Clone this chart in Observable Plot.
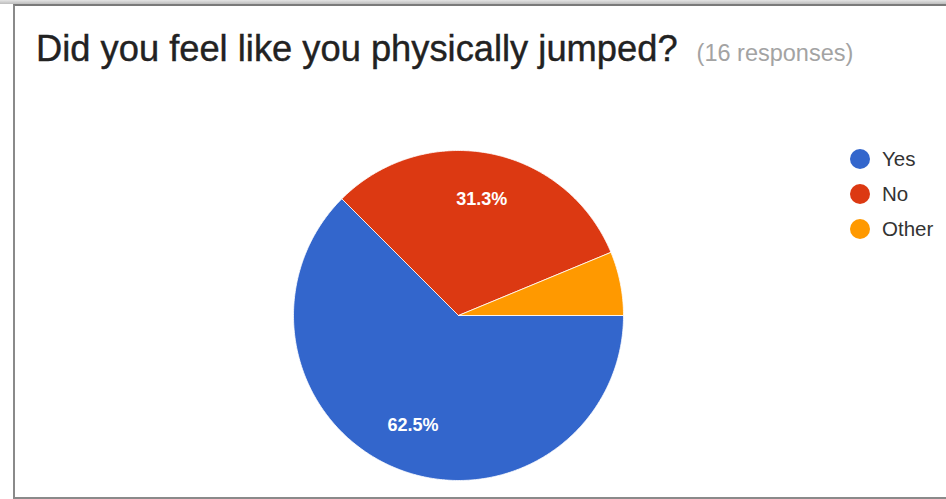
<!DOCTYPE html>
<html>
<head>
<meta charset="utf-8">
<script src="https://cdn.jsdelivr.net/npm/d3@7"></script>
<script src="https://cdn.jsdelivr.net/npm/@observablehq/plot@0.6"></script>
<style>
  html, body { margin: 0; padding: 0; background: #fff; }
  #page { position: relative; width: 946px; height: 499px; overflow: hidden; background: #fff; }
  #topstrip { position: absolute; left: 0; top: 0; width: 946px; height: 4px; background: linear-gradient(#e4e4e4, #bdbdbd); }
  #frame { position: absolute; left: 13px; top: 4px; width: 940px; height: 491px;
           border-top: 2px solid #7a7a7a; border-left: 2px solid #8a8a8a; border-bottom: 2px solid #8a8a8a; }
  #title { position: absolute; left: 36px; top: 28px; font-family: "Liberation Sans", Arial, sans-serif;
           font-size: 36.3px; color: #222; white-space: nowrap; -webkit-text-stroke: 0.4px #222; }
  #title .sub { font-size: 23.5px; color: #a3a3a3; margin-left: 19px; -webkit-text-stroke: 0; }
  #chart { position: absolute; left: 0; top: 0; }
  #legend { position: absolute; left: 850px; top: 141px; font-family: "Liberation Sans", Arial, sans-serif;
            font-size: 20.5px; color: #333; }
  #legend .item { display: flex; align-items: center; height: 35px; }
  #legend .sw { width: 20px; height: 20px; border-radius: 50%; margin-right: 12px; }
</style>
</head>
<body>
<div id="page">
  <div id="topstrip"></div>
  <div id="frame"></div>
  <div id="chart"></div>
  <div id="title"></div>
  <div id="legend"></div>
</div>
<script>
// ---- data ----
const answers = ["Yes", "No", "Other"];
const counts = [10, 5, 1];
const colors = ["#3366cc", "#dc3912", "#ff9900"];
const titleText = "Did you feel like you physically jumped?";
const responsesText = "(16 responses)";
const showLabel = [true, true, false];

// ---- build slices ----
const total = d3.sum(counts);
const startAngle = Math.PI / 2; // slices start at 3 o'clock, clockwise
const pie = d3.pie().sort(null).startAngle(startAngle).endAngle(startAngle + 2 * Math.PI);
const arcs = pie(counts);

const slicePts = [];
const labelRows = [];
arcs.forEach((a, i) => {
  const steps = Math.max(2, Math.ceil((a.endAngle - a.startAngle) / 0.01));
  slicePts.push({answer: answers[i], x: 0, y: 0});
  for (let k = 0; k <= steps; k++) {
    const t = a.startAngle + (a.endAngle - a.startAngle) * k / steps;
    slicePts.push({answer: answers[i], x: Math.sin(t), y: -Math.cos(t)});
  }
  slicePts.push({answer: answers[i], x: 0, y: 0});
  if (showLabel[i]) {
    const mid = (a.startAngle + a.endAngle) / 2;
    labelRows.push({
      x: 0.72 * Math.sin(mid), y: -0.72 * Math.cos(mid),
      text: (counts[i] / total * 100).toFixed(1) + "%"
    });
  }
});

const cx = 458, cy = 315, r = 165;
const chart = Plot.plot({
  width: 946, height: 499,
  margin: 0,
  x: {domain: [-1, 1], range: [cx - r, cx + r], axis: null},
  y: {domain: [-1, 1], range: [cy - r, cy + r], axis: null},
  color: {domain: answers, range: colors},
  style: {background: "transparent", fontFamily: "Liberation Sans, Arial, sans-serif"},
  marks: [
    Plot.line(slicePts, {x: "x", y: "y", z: "answer", fill: "answer", stroke: "white", strokeWidth: 1, strokeOpacity: 0.8, curve: "linear"}),
    Plot.text(labelRows, {x: "x", y: "y", text: "text", fill: "white", fontSize: 18, fontWeight: "bold", dy: 0})
  ]
});
document.getElementById("chart").appendChild(chart);

// title
const t = document.getElementById("title");
t.appendChild(document.createTextNode(titleText));
const s = document.createElement("span"); s.className = "sub"; s.textContent = responsesText; t.appendChild(s);

// legend
const lg = document.getElementById("legend");
answers.forEach((a, i) => {
  const it = document.createElement("div"); it.className = "item";
  const sw = document.createElement("div"); sw.className = "sw"; sw.style.background = colors[i];
  const tx = document.createElement("span"); tx.textContent = a;
  it.appendChild(sw); it.appendChild(tx); lg.appendChild(it);
});
</script>
</body>
</html>
